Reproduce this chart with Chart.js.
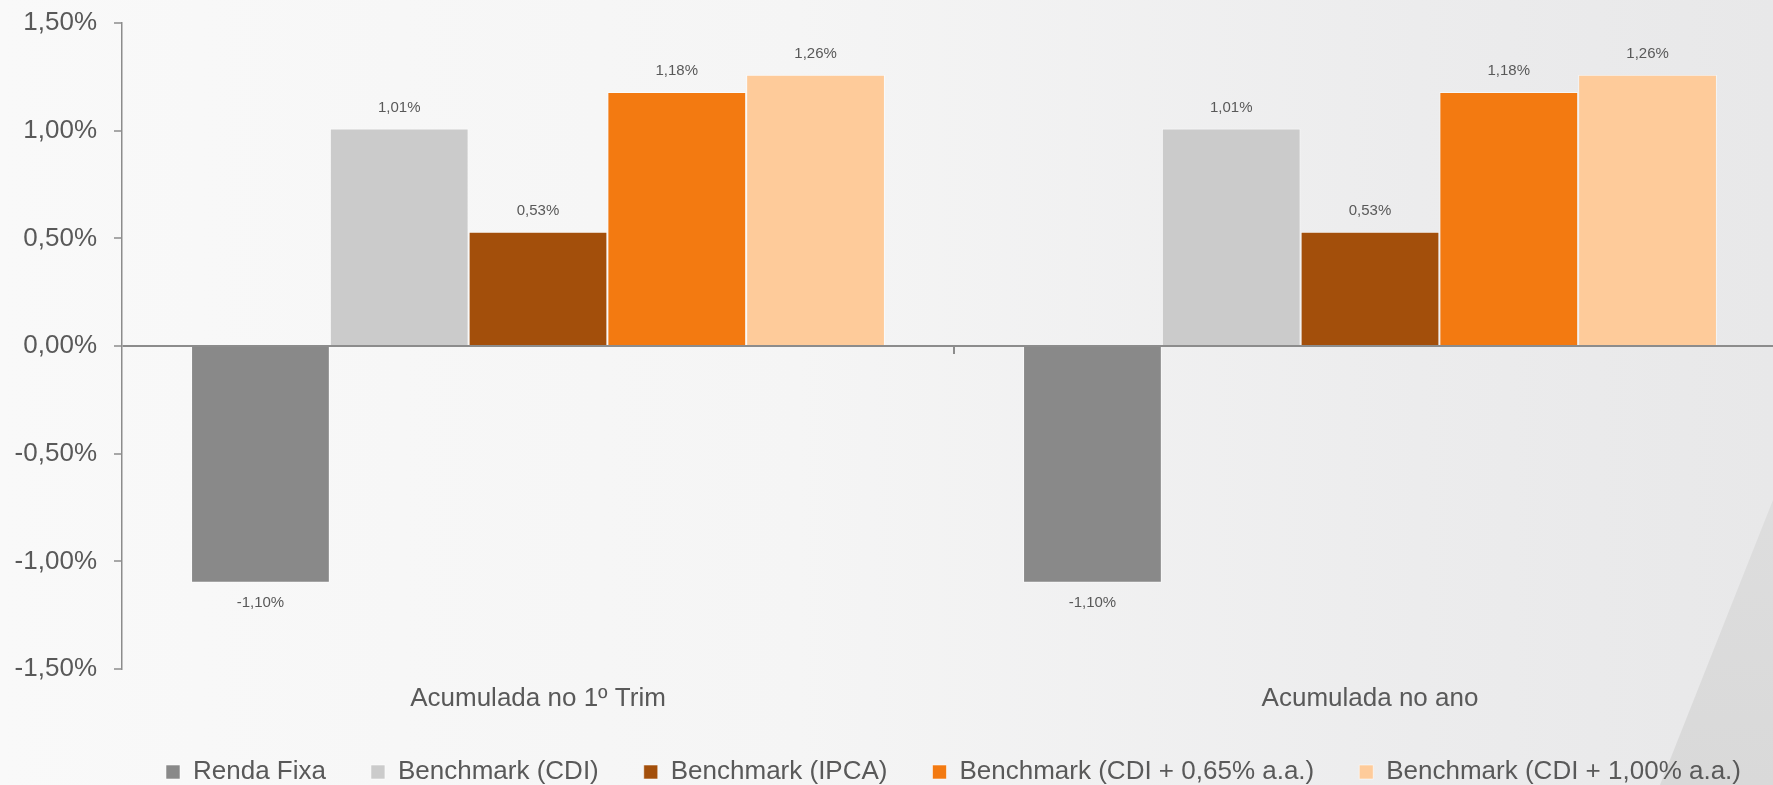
<!DOCTYPE html>
<html>
<head>
<meta charset="utf-8">
<script src="https://cdn.jsdelivr.net/npm/chart.js@4.4.1/dist/chart.umd.min.js"></script>
<style>
  html, body { margin: 0; padding: 0; width: 1773px; height: 785px; overflow: hidden; }
  body { position: relative; background: linear-gradient(90deg, #f9f9f9 0%, #f5f5f5 45%, #ececed 80%, #e8e8e9 100%); }
  #wedge { position: absolute; left: 0; top: 0; width: 1773px; height: 785px;
    background: linear-gradient(180deg, #e5e5e6 0%, #d9d9d9 100%);
    clip-path: polygon(1660px 785px, 1773px 500px, 1773px 785px); }
  #c { position: absolute; left: 0; top: 0; }
</style>
</head>
<body>
<div id="wedge"></div>
<canvas id="c" width="1786" height="785"></canvas>
<script>
const categories = ["Acumulada no 1º Trim", "Acumulada no ano"];
const seriesNames = ["Renda Fixa", "Benchmark (CDI)", "Benchmark (IPCA)", "Benchmark (CDI + 0,65% a.a.)", "Benchmark (CDI + 1,00% a.a.)"];
const rendaFixa = [-1.10, -1.10];
const cdi = [1.01, 1.01];
const ipca = [0.53, 0.53];
const cdi065 = [1.18, 1.18];
const cdi100 = [1.26, 1.26];
const yTickValues = [-1.5, -1.0, -0.5, 0, 0.5, 1.0, 1.5];
const seriesColors = ["#898989", "#cbcbcb", "#a34f0b", "#f37a11", "#fecb9a"];

const fmt = v => v.toFixed(2).replace('.', ',') + '%';
const FONT = "'Liberation Sans', Arial, sans-serif";
const TEXT = "#595959";

const valueLabels = {
  id: 'valueLabels',
  afterDatasetsDraw(chart) {
    const ctx = chart.ctx;
    ctx.save();
    ctx.font = "15px " + FONT;
    ctx.fillStyle = TEXT;
    ctx.textAlign = 'center';
    ctx.textBaseline = 'middle';
    chart.data.datasets.forEach((ds, i) => {
      const meta = chart.getDatasetMeta(i);
      meta.data.forEach((el, j) => {
        const v = ds.data[j];
        const y = v >= 0 ? el.y - 21 : el.y + 20;
        ctx.fillText(fmt(v), el.x, y);
      });
    });
    ctx.restore();
  }
};

const catTick = {
  id: 'catTick',
  afterDraw(chart) {
    const xs = chart.scales.x, ys = chart.scales.y;
    const ctx = chart.ctx;
    const y0 = ys.getPixelForValue(0);
    ctx.save();
    ctx.strokeStyle = '#8c8c8c';
    ctx.lineWidth = 2;
    for (let i = 0; i < xs.ticks.length - 1; i++) {
      const xb = (xs.getPixelForTick(i) + xs.getPixelForTick(i + 1)) / 2;
      ctx.beginPath();
      ctx.moveTo(xb, y0);
      ctx.lineTo(xb, y0 + 8);
      ctx.stroke();
    }
    ctx.restore();
  }
};

const seriesData = [rendaFixa, cdi, ipca, cdi065, cdi100];

new Chart(document.getElementById('c'), {
  type: 'bar',
  data: {
    labels: categories,
    datasets: seriesNames.map((name, i) => ({
      label: name,
      data: seriesData[i],
      backgroundColor: seriesColors[i],
      borderColor: 'rgba(255,255,255,0.55)',
      borderWidth: 1,
      categoryPercentage: 0.834,
      barPercentage: 1.0
    }))
  },
  options: {
    responsive: false,
    animation: false,
    devicePixelRatio: 1,
    layout: { padding: { top: 23, left: 0, right: 0, bottom: -10 } },
    plugins: {
      tooltip: { enabled: false },
      legend: {
        position: 'bottom',
        align: 'end',
        labels: {
          boxWidth: 14,
          boxHeight: 14,
          padding: 45,
          color: TEXT,
          font: { family: FONT, size: 26 }
        }
      }
    },
    scales: {
      x: {
        grid: { display: false, drawTicks: false },
        border: { display: false },
        ticks: { color: TEXT, font: { family: FONT, size: 26 }, padding: 14, maxRotation: 0 },
        afterFit(s) { s.height = 45; }
      },
      y: {
        min: -1.5,
        max: 1.5,
        afterBuildTicks(scale) { scale.ticks = yTickValues.map(v => ({ value: v })); },
        afterFit(s) { s.width = 122; },
        ticks: {
          color: TEXT,
          font: { family: FONT, size: 26, lineHeight: 0.4 },
          padding: 17,
          callback: v => fmt(v)
        },
        grid: {
          color: c => (c.tick && c.tick.value === 0) ? '#8c8c8c' : 'rgba(0,0,0,0)',
          lineWidth: 2,
          tickColor: '#8c8c8c',
          tickWidth: 1.5,
          tickLength: 8
        },
        border: { display: true, color: '#8c8c8c', width: 1.5 }
      }
    }
  },
  plugins: [valueLabels, catTick]
});
</script>
</body>
</html>
